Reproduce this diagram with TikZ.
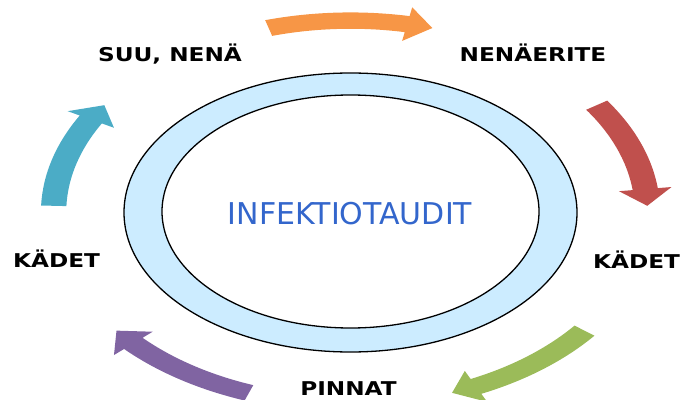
\documentclass[tikz,border=0pt]{standalone}
\usepackage{fontspec}
\setmainfont{DejaVu Sans}
\definecolor{ringblue}{RGB}{204,236,255}
\definecolor{titleblue}{RGB}{51,102,204}
\definecolor{arrorange}{RGB}{247,150,70}
\definecolor{arrred}{RGB}{192,80,77}
\definecolor{arrgreen}{RGB}{155,187,89}
\definecolor{arrpurple}{RGB}{128,100,162}
\definecolor{arrteal}{RGB}{75,172,198}
\tikzset{
  steplabel/.style={font=\bfseries\fontsize{19}{19}\selectfont, xscale=1.22, anchor=base, inner sep=0pt},
  ringline/.style={line width=1.3pt}
}
\begin{document}
\begin{tikzpicture}[x=1pt,y=1pt]
			\useasboundingbox (0,0) rectangle (684,399);
			\draw[ringline, fill=ringblue] (350.5,186.5) ellipse [x radius=226.5, y radius=139.5];
			\draw[ringline, fill=white] (350.5,187.5) ellipse [x radius=188.5, y radius=116.5];
			\node[anchor=base, inner sep=0pt, text=titleblue, font=\fontsize{30}{30}\selectfont] (centre) at (350,175) {INFEKTIOTAUDIT};
			% cycle arrows, drawn on a unit circle stretched to the ring
			\begin{scope}[shift={(350.5,186.5)}, xscale=294, yscale=190]
				\foreach \c/\col in {90/arrorange, 18/arrred, -54/arrgreen, -126/arrpurple, -198/arrteal} {
					\pgfmathsetmacro{\T}{\c+16}
					\pgfmathsetmacro{\P}{\c-16}
					\pgfmathsetmacro{\B}{\c-11}
					\fill[\col] (\T:1.053) arc[start angle=\T, end angle=\B, radius=1.053] -- (\B:1.1) -- (\P:1.01) -- (\B:0.92) -- (\B:0.967) arc[start angle=\B, end angle=\T, radius=0.967] -- cycle;
				}
			\end{scope}
			\node[steplabel] (mouth) at (170,337) {SUU, NENÄ};
			\node[steplabel] (mucus) at (533,337) {NENÄERITE};
			\node[steplabel] (handsr) at (636.5,131) {KÄDET};
			\node[steplabel] (surface) at (348.5,4) {PINNAT};
			\node[steplabel] (handsl) at (56.5,132) {KÄDET};
\end{tikzpicture}
\end{document}
